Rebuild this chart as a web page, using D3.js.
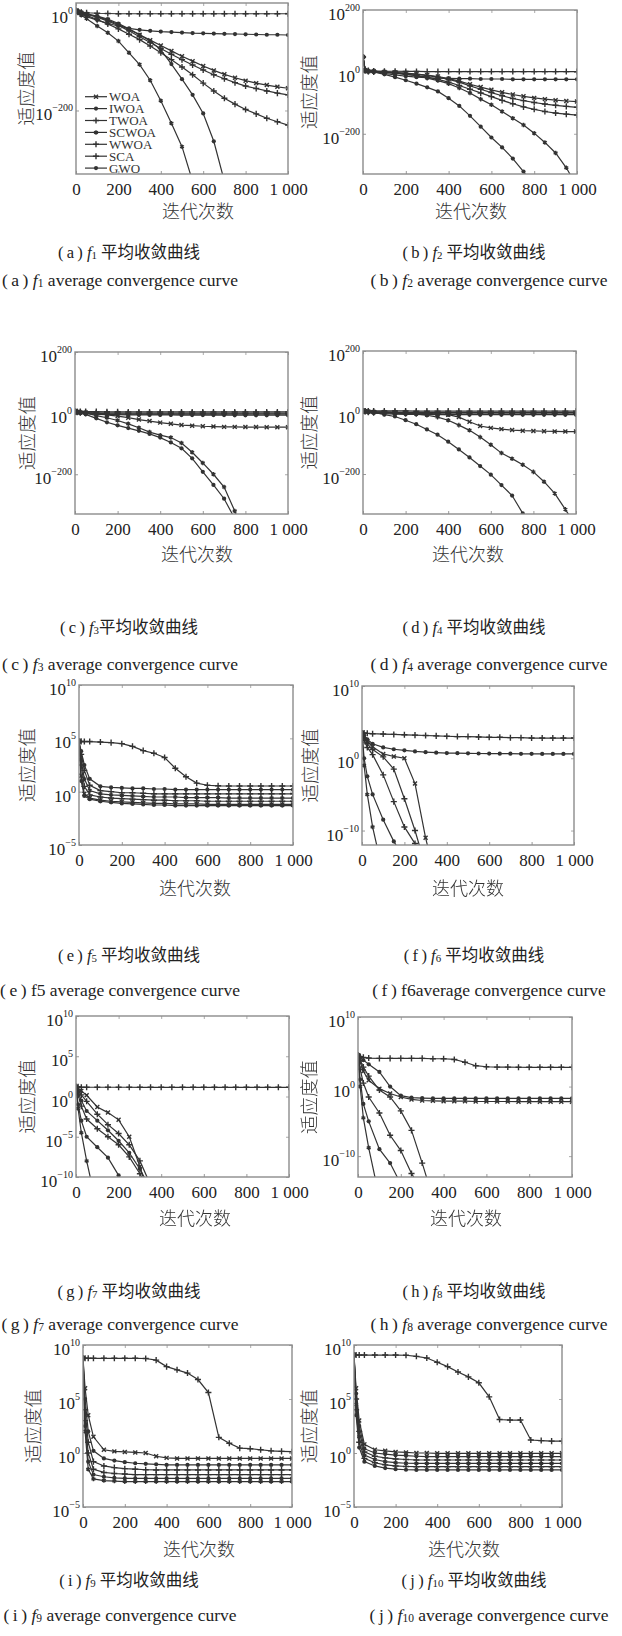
<!DOCTYPE html>
<html><head><meta charset="utf-8">
<script src="https://cdn.jsdelivr.net/npm/d3@7"></script>
<style>
body{margin:0;background:#fff;}
svg{display:block;}
</style></head><body>
<svg id="c" width="622" height="1636"></svg>
<script>
// ---------------- DATA ----------------
const ITERS = [0,10,25,50,100,150,200,250,300,350,400,450,500,550,600,650,700,750,800,850,900,950,1000];
const SERIES = ["WOA","IWOA","TWOA","SCWOA","WWOA","SCA","GWO"];
const X_TICKS = [0,200,400,600,800,1000];
const X_TICK_LABELS = ["0","200","400","600","800","1 000"];
const N = null;

// log10 of average fitness, one row per series in SERIES order
const F1_VALUES = [
 [4,2,0,-3,-8,-15,-24,-34,-45,-56,-67,-78,-89,-99,-109,-118,-126,-133,-139,-144,-148,-151.5,-154.5],
 [4,3,1,-2,-7,-13,-22,-33,-45,-58,-76,-105,-136,-168,-206,-263,-345,N,N,N,N,N,N],
 [4,1,-2,-5,-14,-23,-33,-44,-55,-68,-82,-96,-111,-127,-144,-160,-175,-187,-198,-207,-216,-223,-230],
 [4,0,-5,-12,-27,-41,-58,-82,-106,-138,-180,-226,-274,-345,N,N,N,N,N,N,N,N,N],
 [4,2,0,-3,-9,-17,-26,-37,-49,-61,-73,-85,-96,-107,-117,-127,-135,-143,-150,-155,-160,-164.5,-168],
 [4,3,1,0,-1,-1.5,-2,-2,-2,-2,-2,-2,-2,-2,-2,-2,-2,-2,-2,-2,-2,-2,-2],
 [4,1,-3,-8,-15,-22,-27,-32,-35,-37,-38.5,-39.5,-40.5,-41.5,-42,-42.5,-43,-43.5,-44,-44.5,-45,-45,-45.5]
];
const F2_VALUES = [
 [48,5,2,2,0,-2,-4,-7,-10,-15,-22,-30,-40,-49,-58,-66,-73,-79,-84,-88,-91.5,-94,-96],
 [48,4,1,0,-8,-17,-27,-38,-50,-63,-85,-110,-142,-177,-212,-244,-280,-322,-370,N,N,N,N],
 [48,5,2,1,-1,-3,-5,-8,-12,-17,-24,-33,-45,-56,-67,-77,-86,-93,-99,-104,-108,-111.5,-114.5],
 [48,5,2,2,0,-3,-7,-12,-20,-28,-38,-52,-68,-88,-106,-128,-150,-172,-198,-228,-262,-310,-370],
 [48,4,1,0,-2,-5,-8,-12,-17,-24,-33,-44,-56,-68,-80,-92,-103,-113,-121,-128,-133,-136.5,-139.5],
 [48,8,4,3,2,2,1.5,1.5,1,1,1,1,1,1,1,1,1,1,1,1,1,1,1],
 [48,5,2,0,-5,-10,-14,-17,-19,-20,-21,-22,-22,-23,-23,-23,-24,-24,-24,-24,-24,-24,-24]
];
const F3_VALUES = [
 [5,4,3,2,-1,-6,-10,-15,-21,-26,-31,-35,-39,-41,-43,-44,-45,-45,-45.5,-45.5,-46,-46,-46],
 [5,3,0,-4,-17,-30,-40,-49,-58,-68,-80,-96,-115,-148,-192,-235,-280,-345,N,N,N,N,N],
 [5,5,5,5,5,4.5,4.5,4,4,4,4,4,4,4,4,4,4,4,4,4,4,4,4],
 [5,4,3,1,-8,-15,-24,-35,-48,-62,-72,-80,-98,-128,-163,-200,-242,-320,-410,N,N,N,N],
 [5,4,3,2,1,1,1,0,0,0,0,0,0,0,0,0,0,0,0,0,0,0,0],
 [5,3,1,0,-1,-2,-2,-3,-3,-3,-3,-3,-3,-3,-3,-3,-3,-3,-3,-3,-3,-3,-3],
 [5,3,0,-2,-4,-5,-5,-6,-6,-6,-6,-6,-6.5,-6.5,-6.5,-6.5,-6.5,-7,-7,-7,-7,-7,-7]
];
const F4_VALUES = [
 [5,4,3,2,1,0,-1,-2,-3,-5,-7,-15,-30,-44,-50,-54,-57,-59,-60,-61,-61.5,-62,-62],
 [5,4,3,1,-7,-13,-25,-38,-55,-72,-95,-120,-146,-174,-202,-236,-270,-328,-390,N,N,N,N],
 [5,5,5,5,5,5,5,4.5,4.5,4.5,4.5,4.5,4.5,4.5,4.5,4.5,4.5,4.5,4.5,4.5,4.5,4.5,4.5],
 [5,4,3,2,1,0,-2,-5,-9,-15,-25,-41,-58,-80,-105,-132,-150,-170,-193,-225,-263,-315,-370],
 [5,4,3,2,1,1,0.5,0.5,0,0,0,0,0,0,0,0,0,0,0,0,0,0,0],
 [5,3,1,-1,-2,-3,-3,-3.5,-3.5,-4,-4,-4,-4,-4,-4,-4,-4,-4,-4,-4,-4,-4,-4],
 [5,3,0,-2,-4,-5,-6,-6,-7,-7,-7,-7,-7,-7,-7,-7,-7,-7,-7,-7,-7,-7,-7]
];
const F5_VALUES = [
 [4.7,1.5,-0.2,-0.6,-0.8,-0.9,-0.95,-1.0,-1.05,-1.1,-1.1,-1.15,-1.15,-1.15,-1.2,-1.2,-1.2,-1.2,-1.2,-1.2,-1.2,-1.2,-1.2],
 [4.7,3.8,2.5,1.2,0.5,0.4,0.35,0.3,0.3,0.25,0.25,0.2,0.2,0.2,0.2,0.2,0.2,0.2,0.2,0.2,0.2,0.2,0.2],
 [4.7,3.5,2.0,0.6,0.1,0,-0.1,-0.1,-0.15,-0.2,-0.2,-0.2,-0.2,-0.2,-0.2,-0.2,-0.2,-0.2,-0.2,-0.2,-0.2,-0.2,-0.2],
 [4.7,3.0,1.2,0.1,-0.2,-0.3,-0.35,-0.4,-0.45,-0.5,-0.5,-0.5,-0.55,-0.55,-0.55,-0.55,-0.6,-0.6,-0.6,-0.6,-0.6,-0.6,-0.6],
 [4.7,2.5,0.5,-0.3,-0.5,-0.6,-0.65,-0.7,-0.75,-0.8,-0.8,-0.85,-0.85,-0.85,-0.9,-0.9,-0.9,-0.9,-0.9,-0.9,-0.9,-0.9,-0.9],
 [4.7,4.7,4.7,4.7,4.65,4.6,4.5,4.25,3.85,3.6,3.2,2.2,1.4,0.8,0.6,0.55,0.53,0.53,0.53,0.53,0.53,0.53,0.53],
 [4.7,1.0,-0.4,-0.7,-0.9,-1.0,-1.1,-1.15,-1.2,-1.25,-1.25,-1.3,-1.3,-1.3,-1.3,-1.3,-1.3,-1.3,-1.3,-1.3,-1.3,-1.3,-1.3]
];
const F6_VALUES = [
 [3.5,3.0,2.4,1.6,0.6,0.25,0.0,-3.5,-11,-17,N,N,N,N,N,N,N,N,N,N,N,N,N],
 [3.5,0,-2.5,-5.0,-8.5,-11.5,-14,N,N,N,N,N,N,N,N,N,N,N,N,N,N,N,N],
 [3.5,2.8,2.0,1.2,0.2,-1.5,-5.6,-10,-15,N,N,N,N,N,N,N,N,N,N,N,N,N,N],
 [3.5,-1,-5,-9.5,-16,N,N,N,N,N,N,N,N,N,N,N,N,N,N,N,N,N,N],
 [3.5,2.5,1.5,0.5,-2.3,-6,-9.5,-11.8,-14,N,N,N,N,N,N,N,N,N,N,N,N,N,N],
 [3.5,3.5,3.45,3.4,3.35,3.3,3.25,3.2,3.15,3.1,3.05,3.0,3.0,2.95,2.9,2.9,2.85,2.85,2.8,2.8,2.8,2.8,2.8],
 [3.5,3.1,2.6,2.0,1.5,1.25,1.1,0.95,0.85,0.78,0.72,0.7,0.68,0.66,0.65,0.64,0.63,0.62,0.61,0.6,0.6,0.6,0.6]
];
const F7_VALUES = [
 [1.2,1.0,0.7,0.15,-1.3,-2.0,-2.9,-5.0,-8.7,-13,N,N,N,N,N,N,N,N,N,N,N,N,N],
 [1.2,-1.0,-3.0,-5.0,-6.3,-7.6,-9.8,-12,N,N,N,N,N,N,N,N,N,N,N,N,N,N,N],
 [1.2,0.2,-1.2,-2.8,-4.0,-5.0,-6.0,-7.5,-9.6,-12,N,N,N,N,N,N,N,N,N,N,N,N,N],
 [1.2,-1.5,-4.5,-8.0,-14,N,N,N,N,N,N,N,N,N,N,N,N,N,N,N,N,N,N],
 [1.2,0.8,0.2,-0.6,-2.2,-3.5,-4.6,-6.0,-8.0,-11,N,N,N,N,N,N,N,N,N,N,N,N,N],
 [1.2,1.2,1.15,1.15,1.15,1.15,1.15,1.15,1.14,1.14,1.14,1.14,1.14,1.14,1.14,1.14,1.14,1.14,1.14,1.14,1.14,1.14,1.14],
 [1.2,0.5,-0.5,-1.8,-3.0,-4.2,-5.5,-7.0,-9.0,-11.5,N,N,N,N,N,N,N,N,N,N,N,N,N]
];
const F8_VALUES = [
 [4.5,3.5,2.2,0.9,-0.3,-1.0,-1.5,-1.85,-2.0,-2.05,-2.1,-2.1,-2.1,-2.15,-2.15,-2.15,-2.15,-2.17,-2.17,-2.17,-2.17,-2.17,-2.17],
 [4.5,1.0,-2.5,-5.0,-9.0,-11.0,-14,N,N,N,N,N,N,N,N,N,N,N,N,N,N,N,N],
 [4.5,3.8,2.8,1.5,-0.5,-1.5,-3.5,-6.3,-11,-16,N,N,N,N,N,N,N,N,N,N,N,N,N],
 [4.5,0.0,-4.5,-8.8,-16,N,N,N,N,N,N,N,N,N,N,N,N,N,N,N,N,N,N],
 [4.5,2.5,0.5,-1.5,-3.8,-7.0,-9.2,-12.5,-15,N,N,N,N,N,N,N,N,N,N,N,N,N,N],
 [4.5,4.3,4.2,4.1,4.05,4.05,4.05,4.05,4.05,4.0,4.0,3.9,3.5,3.0,2.85,2.8,2.8,2.78,2.77,2.77,2.77,2.77,2.77],
 [4.5,4.2,3.8,3.2,2.1,0.0,-1.3,-1.6,-1.65,-1.7,-1.7,-1.7,-1.7,-1.7,-1.7,-1.7,-1.7,-1.7,-1.7,-1.7,-1.7,-1.7,-1.7]
];
const F9_VALUES = [
 [8.77,6.0,3.5,1.5,0.3,0.15,0.1,0.05,0.0,-0.3,-0.45,-0.5,-0.5,-0.5,-0.5,-0.5,-0.5,-0.5,-0.5,-0.5,-0.5,-0.5,-0.5],
 [8.77,2.5,-0.8,-2.0,-2.2,-2.3,-2.35,-2.35,-2.35,-2.35,-2.35,-2.35,-2.35,-2.35,-2.35,-2.35,-2.35,-2.35,-2.35,-2.35,-2.35,-2.35,-2.35],
 [8.77,4.0,1.0,-0.8,-1.2,-1.35,-1.45,-1.5,-1.55,-1.57,-1.57,-1.57,-1.57,-1.57,-1.57,-1.57,-1.57,-1.57,-1.57,-1.57,-1.57,-1.57,-1.57],
 [8.77,2.0,-1.5,-2.4,-2.55,-2.6,-2.65,-2.65,-2.65,-2.65,-2.65,-2.65,-2.65,-2.65,-2.65,-2.65,-2.65,-2.65,-2.65,-2.65,-2.65,-2.65,-2.65],
 [8.77,3.0,0.0,-1.5,-1.8,-1.9,-1.95,-2.0,-2.0,-2.0,-2.0,-2.0,-2.0,-2.0,-2.0,-2.0,-2.0,-2.0,-2.0,-2.0,-2.0,-2.0,-2.0],
 [8.77,8.77,8.77,8.77,8.77,8.77,8.77,8.77,8.75,8.6,8.0,7.7,7.4,6.8,5.6,1.45,0.9,0.45,0.4,0.3,0.2,0.15,0.12],
 [8.77,5.0,2.0,0.2,-0.5,-0.7,-0.85,-0.95,-1.0,-1.05,-1.1,-1.1,-1.1,-1.1,-1.1,-1.1,-1.1,-1.1,-1.1,-1.1,-1.1,-1.1,-1.1]
];
const F10_VALUES = [
 [9.07,6.0,3.0,0.8,0.3,0.2,0.1,0.05,0,0,-0.03,-0.03,-0.03,-0.03,-0.03,-0.03,-0.03,-0.03,-0.03,-0.03,-0.03,-0.03,-0.03],
 [9.07,5.5,2.5,0.4,0.0,-0.1,-0.2,-0.25,-0.3,-0.34,-0.34,-0.34,-0.34,-0.34,-0.34,-0.34,-0.34,-0.34,-0.34,-0.34,-0.34,-0.34,-0.34],
 [9.07,5.0,2.0,0.1,-0.3,-0.45,-0.55,-0.6,-0.65,-0.65,-0.65,-0.65,-0.65,-0.65,-0.65,-0.65,-0.65,-0.65,-0.65,-0.65,-0.65,-0.65,-0.65],
 [9.07,4.5,1.5,-0.2,-0.6,-0.8,-0.9,-0.95,-0.96,-0.96,-0.96,-0.96,-0.96,-0.96,-0.96,-0.96,-0.96,-0.96,-0.96,-0.96,-0.96,-0.96,-0.96],
 [9.07,4.0,1.0,-0.5,-0.9,-1.1,-1.2,-1.25,-1.27,-1.27,-1.27,-1.27,-1.27,-1.27,-1.27,-1.27,-1.27,-1.27,-1.27,-1.27,-1.27,-1.27,-1.27],
 [9.07,9.07,9.07,9.07,9.07,9.07,9.07,9.05,8.95,8.8,8.4,8.0,7.5,7.05,6.5,5.2,3.1,3.05,3.05,1.2,1.15,1.1,1.1],
 [9.07,3.5,0.5,-0.8,-1.2,-1.4,-1.5,-1.55,-1.57,-1.57,-1.57,-1.57,-1.57,-1.57,-1.57,-1.57,-1.57,-1.57,-1.57,-1.57,-1.57,-1.57,-1.57]
];
const Y_TICKS_A = [0,-200];
const Y_TICKS_BCD = [200,0,-200];
const Y_TICKS_EIJ = [10,5,0,-5];
const Y_TICKS_FH = [10,0,-10];
const Y_TICKS_G = [10,5,0,-5,-10];
const PANEL_LETTERS = ["a","b","c","d","e","f","g","h","i","j"];
const FUNC_NUMS = ["1","2","3","4","5","6","7","8","9","10"];
const CN_SUFFIX = "平均收敛曲线";
const EN_SUFFIX = "average convergence curve";
const X_LABEL = "迭代次数";
const Y_LABEL = "适应度值";

// ---------------- LAYOUT ----------------
const PANELS = [
 {vals:F1_VALUES, yt:Y_TICKS_A,   x0:76,  x1:288, y0:3,    y1:174,  dom:[-330,20],  yl:25,  xl:198, xly:210, legend:true},
 {vals:F2_VALUES, yt:Y_TICKS_BCD, x0:363, x1:577, y0:10,   y1:174,  dom:[-330,200], yl:308, xl:471, xly:210},
 {vals:F3_VALUES, yt:Y_TICKS_BCD, x0:75,  x1:288, y0:352,  y1:514,  dom:[-330,200], yl:26,  xl:197, xly:553},
 {vals:F4_VALUES, yt:Y_TICKS_BCD, x0:363, x1:576, y0:351,  y1:514,  dom:[-330,200], yl:308, xl:468, xly:553},
 {vals:F5_VALUES, yt:Y_TICKS_EIJ, x0:79,  x1:293, y0:685,  y1:845,  dom:[-5,10],    yl:26,  xl:195, xly:887},
 {vals:F6_VALUES, yt:Y_TICKS_FH,  x0:362, x1:574, y0:686,  y1:845,  dom:[-12,10],   yl:309, xl:468, xly:887},
 {vals:F7_VALUES, yt:Y_TICKS_G,   x0:76,  x1:289, y0:1016, y1:1177, dom:[-10,10],   yl:26,  xl:195, xly:1217},
 {vals:F8_VALUES, yt:Y_TICKS_FH,  x0:358, x1:572, y0:1017, y1:1177, dom:[-13,10],   yl:308, xl:466, xly:1217},
 {vals:F9_VALUES, yt:Y_TICKS_EIJ, x0:83,  x1:292, y0:1345, y1:1507, dom:[-5,10],    yl:32,  xl:199, xly:1548},
 {vals:F10_VALUES,yt:Y_TICKS_EIJ, x0:354, x1:562, y0:1345, y1:1507, dom:[-5,10],    yl:308, xl:464, xly:1548}
];
// caption rows: [cnY, enY]
const CAP_ROWS = [[252,280],[627,664],[955,990],[1291,1324],[1580,1615]];
const CAP_X = {cnL:129, enL:120, cnR:474, enR:489};

const SERIF = "'Liberation Serif','Tinos','Times New Roman','Nimbus Roman','DejaVu Serif',serif";
const MIXED = "'Liberation Serif','Tinos','Times New Roman','Nimbus Roman','DejaVu Serif','Noto Sans CJK SC',serif";
const CJK = "'Noto Sans CJK SC',sans-serif";
const LINE_COLOR = "#333";

const svg = d3.select('#c');
const defs = svg.append('defs');
defs.append('filter').attr('id','soft').attr('x','-5%').attr('y','-5%').attr('width','110%').attr('height','110%')
  .append('feGaussianBlur').attr('stdDeviation',0.45);

const SYM = [
  {type: d3.symbolTimes || d3.symbolCross, stroke:true, size:12},
  {type: d3.symbolCircle, stroke:false, size:14},
  {type: d3.symbolPlus || d3.symbolCross, stroke:true, size:14},
  {type: d3.symbolAsterisk || d3.symbolStar, stroke:true, size:14},
  {type: d3.symbolPlus || d3.symbolCross, stroke:true, size:14},
  {type: d3.symbolPlus || d3.symbolCross, stroke:true, size:14},
  {type: d3.symbolCircle, stroke:false, size:14}
];
function marker(g, si, cx, cy) {
  const s = SYM[si];
  const p = g.append('path').attr('d', d3.symbol().type(s.type).size(s.size)())
    .attr('transform', `translate(${cx},${cy})`);
  if (s.stroke) p.attr('fill','none').attr('stroke',LINE_COLOR).attr('stroke-width',1.4);
  else p.attr('fill',LINE_COLOR);
}

PANELS.forEach((p, pi) => {
  const x = d3.scaleLinear().domain([0,1000]).range([p.x0,p.x1]);
  const y = d3.scaleLinear().domain(p.dom).range([p.y1,p.y0]);
  const g = svg.append('g');
  const cid = 'clip' + pi;
  defs.append('clipPath').attr('id',cid).append('rect')
    .attr('x',p.x0).attr('y',p.y0).attr('width',p.x1-p.x0).attr('height',p.y1-p.y0);

  // axes (inward ticks on all sides)
  const ax = d3.axisBottom(x).tickValues(X_TICKS).tickSize(-3).tickPadding(0).tickFormat((d,i)=>X_TICK_LABELS[i]);
  const gx = g.append('g').attr('transform',`translate(0,${p.y1})`).call(ax);
  gx.attr('font-family',SERIF).attr('font-size',17);
  gx.select('.domain').remove();
  gx.selectAll('line').attr('stroke','#999');
  gx.selectAll('text').attr('y',15.5).attr('dy','0.35em')
    .attr('font-family',SERIF).attr('font-size',17).attr('fill','#222');
  const gxt = g.append('g').attr('transform',`translate(0,${p.y0})`)
    .call(d3.axisTop(x).tickValues(X_TICKS).tickSize(-3).tickFormat(''));
  gxt.select('.domain').remove(); gxt.selectAll('line').attr('stroke','#aaa');
  const gy = g.append('g').attr('transform',`translate(${p.x0},0)`)
    .call(d3.axisLeft(y).tickValues(p.yt).tickSize(-3).tickFormat(''));
  gy.select('.domain').remove(); gy.selectAll('line').attr('stroke','#999');
  const gyr = g.append('g').attr('transform',`translate(${p.x1},0)`)
    .call(d3.axisRight(y).tickValues(p.yt).tickSize(-3).tickFormat(''));
  gyr.select('.domain').remove(); gyr.selectAll('line').attr('stroke','#aaa');

  p.yt.forEach(v => {
    const t = g.append('text').attr('x', p.x0 - 3).attr('y', y(v) + 4)
      .attr('text-anchor','end').attr('dominant-baseline','central')
      .attr('font-family',SERIF).attr('font-size',17).attr('fill','#222');
    t.append('tspan').text('10');
    t.append('tspan').attr('dy',-7).attr('font-size',10).text(v < 0 ? '\u2212' + (-v) : String(v));
  });

  // series
  const pg = g.append('g').attr('clip-path',`url(#${cid})`).append('g').attr('filter','url(#soft)');
  const line = d3.line().defined(d => d[1] != null).x(d => x(d[0])).y(d => y(d[1]));
  p.vals.forEach((vals, si) => {
    const pts = ITERS.map((it,i) => [it, vals[i]]);
    pg.append('path').attr('d', line(pts)).attr('fill','none')
      .attr('stroke',LINE_COLOR).attr('stroke-width',1.2);
    pts.filter(d => d[1] != null && d[1] >= p.dom[0]).forEach(d => marker(pg, si, x(d[0]), y(d[1])));
  });

  // frame
  g.append('rect').attr('x',p.x0).attr('y',p.y0).attr('width',p.x1-p.x0).attr('height',p.y1-p.y0)
    .attr('fill','none').attr('stroke','#8c8c8c').attr('stroke-width',1.4);

  // axis titles
  g.append('text').attr('x',p.xl).attr('y',p.xly).attr('text-anchor','middle').attr('dominant-baseline','central')
    .attr('font-family',CJK).attr('font-weight',300).attr('font-size',18).attr('fill','#333').text(X_LABEL);
  g.append('text').attr('transform',`translate(${p.yl},${(p.y0+p.y1)/2}) rotate(-90)`)
    .attr('text-anchor','middle').attr('dominant-baseline','central')
    .attr('font-family',CJK).attr('font-weight',300).attr('font-size',18.5).attr('fill','#333').text(Y_LABEL);

  if (p.legend) {
    const lg = g.append('g');
    SERIES.forEach((name, si) => {
      const ly = 96.7 + si * 11.9;
      const sg = lg.append('g').attr('filter','url(#soft)');
      sg.append('line').attr('x1',85).attr('x2',107).attr('y1',ly).attr('y2',ly)
        .attr('stroke',LINE_COLOR).attr('stroke-width',1.2);
      marker(sg, si, 96, ly);
      lg.append('text').attr('x',109).attr('y',ly).attr('dominant-baseline','central')
        .attr('font-family',SERIF).attr('font-size',13).attr('fill','#333').text(name);
    });
  }

  // captions
  const row = CAP_ROWS[Math.floor(pi/2)];
  const left = pi % 2 === 0;
  const L = PANEL_LETTERS[pi], n = FUNC_NUMS[pi];
  function cap(cx, cy, suffix, mode, fs) {
    const t = svg.append('text').attr('x',cx).attr('y',cy).attr('text-anchor','middle')
      .attr('dominant-baseline','central').attr('font-family',MIXED).attr('font-size',fs).attr('fill','#222');
    t.append('tspan').text('(\u2009' + L + '\u2009)\u00a0');
    if (mode === 'plain') {
      t.append('tspan').text('f' + n + suffix);
      return;
    }
    t.append('tspan').attr('font-style','italic').text('f');
    t.append('tspan').attr('dy',3).attr('font-size',fs*0.66).text(n);
    t.append('tspan').attr('dy',-3).text(suffix);
  }
  const cnSuffix = (pi === 2 ? '' : '\u00a0') + CN_SUFFIX;
  cap(left ? CAP_X.cnL : CAP_X.cnR, row[0], cnSuffix, 'sub', 16.5);
  if (pi === 4) cap(CAP_X.enL, row[1], '\u00a0' + EN_SUFFIX, 'plain', 17.5);
  else if (pi === 5) cap(CAP_X.enR, row[1], EN_SUFFIX, 'plain', 17.5);
  else cap(left ? CAP_X.enL : CAP_X.enR, row[1], '\u00a0' + EN_SUFFIX, 'sub', 17.5);
});
</script>
</body></html>
